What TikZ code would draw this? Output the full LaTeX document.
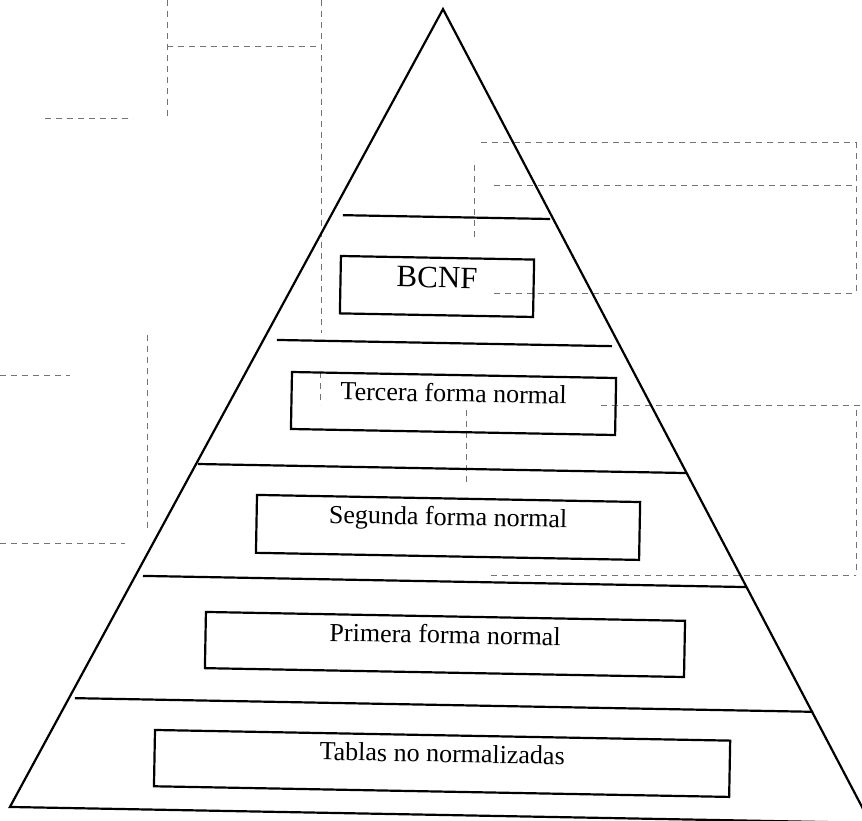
\documentclass[tikz,border=0pt]{standalone}
\usepackage{fontspec}
\setmainfont{Liberation Serif}
\begin{document}
\begin{tikzpicture}[x=1pt,y=1pt,
  edge/.style={line width=2.2pt, line join=miter},
  tier/.style={draw, line width=2.2pt, inner sep=0pt},
  caption/.style={anchor=base, inner sep=0pt, font=\fontsize{26}{30}\selectfont},
  bigcaption/.style={caption, font=\fontsize{31}{36}\selectfont},
  ghost/.style={draw=black!55, line width=0.8pt, dash pattern=on 6pt off 5pt}]
\useasboundingbox (0,0) rectangle (862,821);
\clip (0,0) rectangle (862,821);

% faint dashed frames showing through the sheet
\draw[ghost] (167,821) -- (167,703);
\draw[ghost] (167,775) -- (321,775);
\draw[ghost] (321,821) -- (321,488);
\draw[ghost] (320,449) -- (320,416);
\draw[ghost] (45,703) -- (133,703);
\draw[ghost] (147,486) -- (147,291);
\draw[ghost] (0,446) -- (70,446);
\draw[ghost] (0,278) -- (125,278);
\draw[ghost] (481,679) -- (856,679);
\draw[ghost] (494,636) -- (856,636);
\draw[ghost] (494,528) -- (856,528);
\draw[ghost] (856,679) -- (856,528);
\draw[ghost] (474,656) -- (474,581);
\draw[ghost] (601,416) -- (862,416);
\draw[ghost] (491,246) -- (856,246);
\draw[ghost] (856,411) -- (856,246);
\draw[ghost] (466,411) -- (466,336);

\begin{scope}[rotate around={-1.06:(431,410.5)}, transform shape]
  % outline of the pyramid
  \coordinate (apex) at (435.6,812.1);
  \coordinate (baseL) at (17.3,6.3);
  \coordinate (baseR) at (878.0,6.3);
  \draw[edge] (apex) -- (baseL) -- (baseR) -- cycle;

  % level separators
  \coordinate (s1a) at (339.4,604.2); \coordinate (s1b) at (546.5,604.2);
  \coordinate (s2a) at (275.7,478.2); \coordinate (s2b) at (610.8,478.2);
  \coordinate (s3a) at (199.0,352.7); \coordinate (s3b) at (687.2,352.7);
  \coordinate (s4a) at (146.1,239.8); \coordinate (s4b) at (749.3,239.8);
  \coordinate (s5a) at (80.3,116.3);  \coordinate (s5b) at (818.6,116.3);
  \draw[edge] (s1a) -- (s1b);
  \draw[edge] (s2a) -- (s2b);
  \draw[edge] (s3a) -- (s3b);
  \draw[edge] (s4a) -- (s4b);
  \draw[edge] (s5a) -- (s5b);

  % one framed label per level
  \node[tier, minimum width=193.2pt, minimum height=57.4pt] (bcnf) at (434.7,534.6) {};
  \node[tier, minimum width=324.2pt, minimum height=57.0pt] (fn3) at (453.4,417.9) {};
  \node[tier, minimum width=383.2pt, minimum height=57.9pt] (fn2) at (450.2,293.9) {};
  \node[tier, minimum width=479.2pt, minimum height=56.2pt] (fn1) at (449.3,176.8) {};
  \node[tier, minimum width=575.3pt, minimum height=56.3pt] (fn0) at (448.6,57.8) {};

  \node[bigcaption] (bcnfText) at ([yshift=-31pt]bcnf.north) {BCNF};
  \node[caption] (fn3Text) at ([yshift=-28pt]fn3.north) {Tercera forma normal};
  \node[caption] (fn2Text) at ([yshift=-28pt]fn2.north) {Segunda forma normal};
  \node[caption] (fn1Text) at ([yshift=-28pt]fn1.north) {Primera forma normal};
  \node[caption] (fn0Text) at ([yshift=-28pt]fn0.north) {Tablas no normalizadas};
\end{scope}
\end{tikzpicture}
\end{document}
